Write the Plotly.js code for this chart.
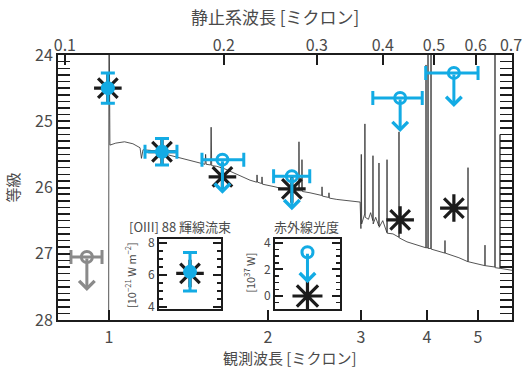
<!DOCTYPE html>
<html>
<head>
<meta charset="utf-8">
<script src="https://cdn.plot.ly/plotly-3.0.1.min.js"></script>
<style>
  html, body { margin: 0; padding: 0; background: #fff; }
  #chart { width: 522px; height: 371px; }
</style>
</head>
<body>
<div id="chart"></div>
<script>
// Redshift used for the rest-frame (top) axis
const REDSHIFT = 7.25;

// Model spectrum: observed wavelength [micron] and AB magnitude
const specWave = [0.800, 0.998, 1.000, 1.004, 1.030, 1.070, 1.110, 1.145, 1.152, 1.160,
  1.200, 1.240, 1.280, 1.320, 1.363, 1.410, 1.455, 1.520, 1.524, 1.528,
  1.558, 1.561, 1.565, 1.600, 1.658, 1.700, 1.771, 1.850, 1.904, 1.907,
  1.911, 1.946, 1.949, 1.953, 2.063, 2.154, 2.287, 2.290, 2.294, 2.317,
  2.320, 2.324, 2.403, 2.529, 2.532, 2.536, 2.607, 2.610, 2.614, 2.700,
  2.860, 2.990, 3.000, 3.005, 3.010, 3.050, 3.053, 3.057, 3.100, 3.130,
  3.160, 3.162, 3.165, 3.200, 3.243, 3.246, 3.249, 3.300, 3.360, 3.362,
  3.365, 3.450, 3.540, 3.542, 3.545, 3.667, 3.800, 3.983, 3.985, 3.988,
  4.018, 4.020, 4.023, 4.070, 4.073, 4.076, 4.326, 4.329, 4.332, 4.600,
  4.783, 4.786, 4.789, 5.151, 5.154, 5.157, 5.380, 5.384, 5.388, 5.499,
  5.503, 5.507, 5.800];
const specMag = [30.0, 30.0, 23.0, 25.36, 25.33, 25.31, 25.34, 25.40, 25.56, 25.43,
  25.44, 25.47, 25.50, 25.52, 25.55, 25.58, 25.61, 25.65, 25.50, 25.65,
  25.66, 25.09, 25.67, 25.68, 25.72, 25.76, 25.83, 25.89, 25.92, 25.81,
  25.92, 25.94, 25.84, 25.95, 25.99, 26.03, 26.05, 25.31, 26.05, 26.05,
  25.58, 26.06, 26.08, 26.12, 25.99, 26.13, 26.15, 26.08, 26.16, 26.18,
  26.20, 26.22, 26.62, 25.50, 26.55, 26.40, 25.04, 26.45, 26.48, 26.38,
  26.50, 25.52, 26.55, 26.45, 26.58, 25.63, 26.60, 26.50, 26.68, 25.58,
  26.69, 26.70, 26.75, 25.16, 26.76, 26.82, 26.86, 26.91, 24.15, 26.91,
  26.91, 23.0, 26.92, 26.92, 23.0, 26.93, 26.99, 26.80, 26.99, 27.06,
  27.12, 25.70, 27.12, 27.18, 26.87, 27.18, 27.20, 23.0, 27.21, 27.22,
  25.20, 27.22, 27.25];

// Photometric detections (cyan, filled)
const detWave   = [0.995, 1.26];
const detMag    = [24.50, 25.46];
const detMagErr = [0.23, 0.20];
const detWaveLo = [0.995, 1.17];
const detWaveHi = [0.995, 1.345];

// Upper limits (cyan, open)
const limWave   = [1.64, 2.22, 3.56, 4.50];
const limMag    = [25.58, 25.83, 24.65, 24.27];
const limWaveLo = [1.50, 2.05, 3.16, 3.98];
const limWaveHi = [1.80, 2.40, 3.92, 5.00];

// Upper limit below the break (grey)
const greyWave   = [0.908];
const greyMag    = [27.05];
const greyWaveLo = [0.847];
const greyWaveHi = [0.970];

// Model magnitudes in each band
const modelWave = [0.995, 1.26, 1.64, 2.22, 3.56, 4.50];
const modelMag  = [24.50, 25.46, 25.84, 26.02, 26.49, 26.31];

// Insets: [OIII] 88 line flux [1e-21 W m^-2] and infrared luminosity [1e37 W]
const oiiiObs = [6.2];
const oiiiErr = [1.2];
const oiiiModel = [6.1];
const lirLimit = [3.3];
const lirModel = [0.0];

// Tick labels
const obsTicks  = [1, 2, 3, 4, 5];
const restTicks = [0.1, 0.2, 0.3, 0.4, 0.5, 0.6, 0.7];
const magTicks  = [24, 25, 26, 27, 28];

const CYAN = '#13ABE4';
const GREY = '#8a8a8a';
const INK  = '#1c1c1c';
const TXT  = '#4a4a4a';
const FONT = "'Noto Sans CJK JP', 'Noto Sans', sans-serif";

const xRange = [-0.0966, 0.7633];
const zShift = Math.log10(1 + REDSHIFT);

const traces = [];

traces.push({
  x: specWave, y: specMag, mode: 'lines', type: 'scatter',
  line: { color: '#2a2a2a', width: 0.8 }, hoverinfo: 'skip', showlegend: false
});

// empty trace so the rest-frame axis gets its own overlaying subplot
traces.push({
  x: [restTicks[0]], y: [null], xaxis: 'x4', yaxis: 'y', mode: 'markers', type: 'scatter',
  hoverinfo: 'skip', showlegend: false
});

traces.push({
  x: modelWave, y: modelMag, mode: 'markers', type: 'scatter',
  marker: { symbol: 'asterisk-open', size: 23, color: INK, line: { width: 3.2, color: INK } },
  showlegend: false
});

detWave.forEach((w, i) => {
  const t = {
    x: [w], y: [detMag[i]], mode: 'markers', type: 'scatter',
    marker: { symbol: 'circle', size: 14, color: CYAN },
    error_y: { type: 'data', array: [detMagErr[i]], color: CYAN, thickness: 3, width: 7 },
    showlegend: false
  };
  if (detWaveHi[i] > detWaveLo[i]) {
    t.error_x = { type: 'data', symmetric: false, array: [detWaveHi[i] - w],
      arrayminus: [w - detWaveLo[i]], color: CYAN, thickness: 3, width: 7 };
  }
  traces.push(t);
});

function limitTrace(wave, mag, lo, hi, color) {
  return {
    x: wave, y: mag, mode: 'markers', type: 'scatter',
    marker: { symbol: 'circle-open', size: 11, color: color, line: { width: 3, color: color } },
    error_x: { type: 'data', symmetric: false,
      array: wave.map((w, i) => hi[i] - w), arrayminus: wave.map((w, i) => w - lo[i]),
      color: color, thickness: 3, width: 7 },
    showlegend: false
  };
}
traces.push(limitTrace(limWave, limMag, limWaveLo, limWaveHi, CYAN));
traces.push(limitTrace(greyWave, greyMag, greyWaveLo, greyWaveHi, GREY));

// Inset traces
traces.push({
  x: [0.5], y: oiiiModel, xaxis: 'x2', yaxis: 'y2', mode: 'markers', type: 'scatter',
  marker: { symbol: 'asterisk-open', size: 23, color: INK, line: { width: 3.2, color: INK } },
  showlegend: false
});
traces.push({
  x: [0.5], y: oiiiObs, xaxis: 'x2', yaxis: 'y2', mode: 'markers', type: 'scatter',
  marker: { symbol: 'circle', size: 14, color: CYAN },
  error_y: { type: 'data', array: oiiiErr, color: CYAN, thickness: 3, width: 7 },
  showlegend: false
});
traces.push({
  x: [0.5], y: lirModel, xaxis: 'x3', yaxis: 'y3', mode: 'markers', type: 'scatter',
  marker: { symbol: 'asterisk-open', size: 25, color: INK, line: { width: 3.2, color: INK } },
  showlegend: false
});
traces.push({
  x: [0.5], y: lirLimit, xaxis: 'x3', yaxis: 'y3', mode: 'markers', type: 'scatter',
  marker: { symbol: 'circle-open', size: 11, color: CYAN, line: { width: 3, color: CYAN } },
  showlegend: false
});

// Downward arrows marking upper limits
function limitArrow(xval, yval, xref, yref, color, len) {
  return { x: xval, y: yval, xref: xref, yref: yref, text: '', showarrow: true,
    ax: 0, ay: -len, yshift: -len, arrowhead: 4, arrowsize: 1, arrowwidth: 3,
    arrowcolor: color, standoff: 0, startstandoff: 0 };
}
const annotations = [];
limWave.forEach((w, i) => annotations.push(limitArrow(Math.log10(w), limMag[i], 'x', 'y', CYAN, 34)));
greyWave.forEach((w, i) => annotations.push(limitArrow(Math.log10(w), greyMag[i], 'x', 'y', GREY, 34)));
annotations.push(limitArrow(0.5, lirLimit[0], 'x3', 'y3', CYAN, 31));

// Titles
function label(text, x, y, size, extra) {
  return Object.assign({ xref: 'paper', yref: 'paper', x: x, y: y, xanchor: 'center',
    yanchor: 'middle', text: text, showarrow: false,
    font: { family: FONT, size: size, color: TXT } }, extra || {});
}
annotations.push(label('静止系波長 [ミクロン]', 0.478, 1, 17, { yshift: 39 }));
annotations.push(label('観測波長 [ミクロン]', 0.511, 0, 15, { yshift: -37 }));
annotations.push(label('等級', 0, 0.5, 15, { xshift: -46, textangle: -90 }));
annotations.push(label('[OIII] 88 輝線流束', 0.2687, 0.352, 13));
annotations.push(label('赤外線光度', 0.548, 0.352, 13));
annotations.push(label('[10<sup>−21</sup> W m<sup>−2</sup>]', 0.1608, 0.17, 11, { textangle: -90 }));
annotations.push(label('[10<sup>37</sup> W]', 0.4229, 0.178, 11, { textangle: -90 }));

const tickFont = { family: FONT, size: 16, color: TXT };
const insetTickFont = { family: FONT, size: 12, color: TXT };

const layout = {
  width: 522, height: 371,
  margin: { l: 58, r: 10, t: 55, b: 51 },
  paper_bgcolor: '#fff', plot_bgcolor: '#fff',
  showlegend: false,
  font: { family: FONT, color: TXT },
  xaxis: {
    type: 'log', range: xRange, tickvals: obsTicks, ticktext: obsTicks.map(String),
    ticks: 'inside', ticklen: 10, tickwidth: 2, tickcolor: INK,
    showline: true, linewidth: 2, linecolor: INK, mirror: false,
    showgrid: false, zeroline: false, tickfont: tickFont, ticklabelstandoff: 2
  },
  xaxis4: {
    type: 'log', overlaying: 'x', anchor: 'y', side: 'top',
    range: [xRange[0] - zShift, xRange[1] - zShift],
    tickvals: restTicks, ticktext: restTicks.map(v => v.toFixed(1)),
    ticks: 'inside', ticklen: 10, tickwidth: 2, tickcolor: INK,
    showline: true, linewidth: 2, linecolor: INK, ticklabeloverflow: 'allow',
    showgrid: false, zeroline: false, tickfont: tickFont, ticklabelstandoff: -4
  },
  yaxis: {
    range: [28, 24], tickvals: magTicks, ticktext: magTicks.map(String),
    ticks: 'inside', ticklen: 12, tickwidth: 2, tickcolor: INK,
    minor: { dtick: 0.1, ticks: 'inside', ticklen: 6, tickwidth: 1.5, tickcolor: INK, showgrid: false },
    showline: true, linewidth: 2, linecolor: INK, mirror: 'allticks',
    showgrid: false, zeroline: false, tickfont: tickFont
  },
  xaxis2: {
    domain: [0.2225, 0.359], anchor: 'y2', range: [0, 1],
    showticklabels: false, ticks: '', showline: true, linewidth: 2, linecolor: INK,
    mirror: true, showgrid: false, zeroline: false
  },
  yaxis2: {
    domain: [0.0415, 0.3057], anchor: 'x2', range: [3.88, 8.25],
    tickvals: [4, 6, 8], ticktext: ['4', '6', '8'],
    ticks: 'inside', ticklen: 8, tickwidth: 2, tickcolor: INK,
    minor: { dtick: 0.5, ticks: 'inside', ticklen: 4, tickwidth: 1.5, tickcolor: INK, showgrid: false },
    showline: true, linewidth: 2, linecolor: INK, mirror: 'allticks',
    showgrid: false, zeroline: false, tickfont: insetTickFont
  },
  xaxis3: {
    domain: [0.478, 0.621], anchor: 'y3', range: [0, 1],
    showticklabels: false, ticks: '', showline: true, linewidth: 2, linecolor: INK,
    mirror: true, showgrid: false, zeroline: false
  },
  yaxis3: {
    domain: [0.0415, 0.3057], anchor: 'x3', range: [-0.98, 4.3],
    tickvals: [0, 2, 4], ticktext: ['0', '2', '4'],
    ticks: 'inside', ticklen: 8, tickwidth: 2, tickcolor: INK,
    minor: { dtick: 0.5, ticks: 'inside', ticklen: 4, tickwidth: 1.5, tickcolor: INK, showgrid: false },
    showline: true, linewidth: 2, linecolor: INK, mirror: 'allticks',
    showgrid: false, zeroline: false, tickfont: insetTickFont
  },
  annotations: annotations
};

Plotly.newPlot('chart', traces, layout, { staticPlot: true, displayModeBar: false });
</script>
</body>
</html>
